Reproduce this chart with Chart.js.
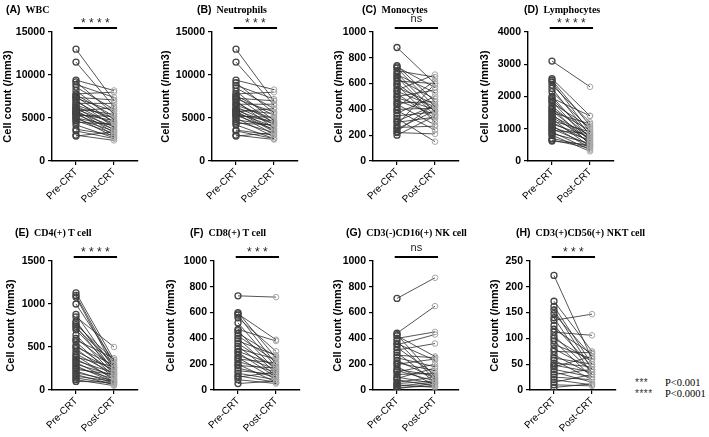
<!DOCTYPE html>
<html>
<head>
<meta charset="utf-8">
<script src="https://cdn.jsdelivr.net/npm/chart.js@4.4.1/dist/chart.umd.min.js"></script>
<style>
  body { margin: 0; background: #fff; }
  #fig { position: relative; width: 709px; height: 437px; overflow: hidden; }
  .panel { position: absolute; }
  .title { position: absolute; white-space: nowrap; line-height: 13px; }
  .title .tag { font: bold 10.5px "Liberation Sans", Arial, sans-serif; }
  .title .name { font: bold 10px "Liberation Serif", "Times New Roman", serif; margin-left: 5px; }
  .key { position: absolute; font: 10.5px "Liberation Serif", "Times New Roman", serif; line-height: 11px; white-space: nowrap; }
  .key .stars { font: 10px "Liberation Sans", Arial, sans-serif; letter-spacing: 0.5px; display: inline-block; width: 30px; color: #333; }
</style>
</head>
<body>
<div id="fig"></div>
<script>
const categories = ["Pre-CRT", "Post-CRT"];

// paired values per patient, pre[i] -> post[i]
const wbcPre = [13000, 11500, 9400, 9200, 8900, 8600, 8200, 7800, 7700, 7500, 7400, 7300, 7100, 6900, 6700, 6500, 6400, 6200, 6100, 6000, 5900, 5800, 5700, 5600, 5500, 5400, 5300, 5100, 5000, 4900, 4700, 4500, 4200, 3700, 3500, 3000, 2900];
const wbcPost = [7000, 6300, 8200, 5500, 7400, 6000, 4800, 8000, 5200, 4500, 7100, 5800, 3900, 4600, 6700, 5000, 4200, 3600, 5400, 4400, 3300, 6200, 4000, 3000, 4700, 3700, 5200, 2800, 4100, 3500, 3200, 4300, 2700, 3000, 2600, 2400, 3400];

const neuPre = [13000, 11500, 9400, 9100, 8800, 8500, 8100, 7800, 7600, 7500, 7300, 7200, 7000, 6800, 6600, 6500, 6300, 6100, 6000, 5900, 5800, 5700, 5600, 5500, 5400, 5300, 5200, 5000, 4800, 4600, 4400, 4200, 3600, 3500, 3000, 2900];
const neuPost = [7000, 6500, 8300, 5600, 7200, 6100, 4700, 8000, 5300, 4400, 7000, 5700, 3800, 4500, 6600, 4900, 4300, 3500, 5500, 4300, 3400, 6100, 4000, 3100, 4600, 3700, 5100, 2800, 4100, 3300, 4200, 2600, 3000, 2600, 2500, 3300];

const monoPre = [880, 740, 730, 720, 700, 680, 670, 650, 640, 620, 600, 590, 570, 550, 540, 520, 500, 490, 470, 450, 440, 420, 400, 390, 370, 350, 330, 310, 300, 280, 260, 250, 230, 220, 200];
const monoPost = [600, 460, 570, 420, 650, 380, 530, 350, 480, 600, 390, 300, 440, 670, 420, 330, 550, 400, 360, 460, 280, 620, 410, 240, 500, 380, 150, 430, 340, 600, 270, 390, 440, 210, 350];

const lymPre = [3100, 2550, 2500, 2450, 2350, 2250, 2150, 2000, 1950, 1900, 1850, 1800, 1700, 1650, 1600, 1550, 1500, 1450, 1400, 1350, 1300, 1250, 1200, 1150, 1100, 1050, 1000, 950, 900, 850, 800, 700, 650, 620];
const lymPost = [2300, 1400, 1100, 900, 1200, 800, 1000, 700, 1400, 850, 600, 1050, 750, 500, 950, 650, 1150, 550, 800, 700, 450, 900, 600, 750, 400, 650, 500, 850, 350, 550, 300, 450, 400, 500];

const cd4Pre = [1130, 1100, 1080, 1000, 880, 850, 800, 780, 760, 740, 720, 700, 640, 600, 580, 560, 520, 500, 480, 450, 420, 400, 380, 360, 340, 320, 300, 280, 260, 240, 220, 200, 180, 160, 140, 120, 100];
const cd4Post = [350, 300, 260, 330, 250, 500, 220, 280, 350, 200, 310, 240, 180, 260, 370, 160, 210, 290, 150, 230, 190, 120, 270, 140, 200, 100, 170, 90, 130, 180, 80, 110, 60, 100, 70, 50, 90];

const cd8Pre = [730, 600, 590, 580, 560, 520, 470, 460, 440, 420, 400, 380, 360, 340, 320, 300, 290, 270, 250, 240, 220, 200, 190, 170, 150, 130, 110, 100, 80, 50];
const cd8Post = [720, 250, 390, 200, 300, 180, 380, 150, 260, 220, 130, 270, 170, 110, 240, 190, 100, 160, 80, 210, 140, 60, 170, 100, 120, 80, 60, 140, 50, 70];

const nkPre = [710, 440, 430, 420, 400, 380, 360, 350, 330, 310, 290, 270, 250, 230, 210, 200, 180, 160, 150, 140, 120, 100, 90, 80, 60, 50, 40, 30, 20, 10];
const nkPost = [870, 650, 100, 260, 450, 80, 230, 430, 120, 360, 60, 250, 180, 90, 150, 240, 40, 110, 70, 200, 130, 50, 170, 30, 100, 70, 20, 60, 30, 50];

const nktPre = [222, 172, 162, 155, 148, 140, 135, 125, 118, 112, 105, 100, 95, 88, 80, 75, 68, 62, 58, 52, 48, 45, 40, 35, 30, 25, 20, 15, 10, 5];
const nktPost = [60, 75, 50, 40, 65, 30, 147, 45, 70, 106, 35, 55, 25, 60, 40, 72, 30, 50, 20, 45, 35, 65, 25, 15, 40, 20, 10, 30, 8, 12];

const panels = [
  { tag: "(A)", name: "WBC", pre: wbcPre, post: wbcPost, max: 15000, step: 5000, sig: "* * * *", row: 0, left: 0, axisX: 52, titleX: 6 },
  { tag: "(B)", name: "Neutrophils", pre: neuPre, post: neuPost, max: 15000, step: 5000, sig: "* * *", row: 0, left: 158, axisX: 212, titleX: 197 },
  { tag: "(C)", name: "Monocytes", pre: monoPre, post: monoPost, max: 1000, step: 200, sig: "ns", row: 0, left: 331, axisX: 373, titleX: 362 },
  { tag: "(D)", name: "Lymphocytes", pre: lymPre, post: lymPost, max: 4000, step: 1000, sig: "* * * *", row: 0, left: 477, axisX: 528, titleX: 524 },
  { tag: "(E)", name: "CD4(+) T cell", pre: cd4Pre, post: cd4Post, max: 1500, step: 500, sig: "* * * *", row: 1, left: 3, axisX: 52, titleX: 15 },
  { tag: "(F)", name: "CD8(+) T cell", pre: cd8Pre, post: cd8Post, max: 1000, step: 200, sig: "* * *", row: 1, left: 163, axisX: 214, titleX: 190 },
  { tag: "(G)", name: "CD3(-)CD16(+) NK cell", pre: nkPre, post: nkPost, max: 1000, step: 200, sig: "ns", row: 1, left: 330, axisX: 373, titleX: 346 },
  { tag: "(H)", name: "CD3(+)CD56(+) NKT cell", pre: nktPre, post: nktPost, max: 250, step: 50, sig: "* * *", row: 1, left: 487, axisX: 530, titleX: 516 },
];

// vertical frame of each row: canvas top/bottom and plot top/bottom
const rows = [
  { top: 0, bottom: 215, plotTop: 32, plotBottom: 161, titleY: 1 },
  { top: 215, bottom: 437, plotTop: 261, plotBottom: 390, titleY: 224 },
];

const AXIS_LEN = 86;
const PRE_OFFSET = 24;
const PAIR_GAP = 38;

const sigBar = {
  id: "sigBar",
  afterDraw(chart, args, opts) {
    const { ctx, chartArea, scales } = chart;
    const x1 = scales.x.getPixelForValue(-0.06);
    const x2 = scales.x.getPixelForValue(1.08);
    const y = chartArea.top - 4;
    ctx.save();
    ctx.strokeStyle = "#000";
    ctx.lineWidth = 2.2;
    ctx.beginPath();
    ctx.moveTo(x1, y);
    ctx.lineTo(x2, y);
    ctx.stroke();
    ctx.fillStyle = "#222";
    ctx.textAlign = "center";
    ctx.textBaseline = "alphabetic";
    if (opts.text === "ns") {
      ctx.font = '11px "Liberation Sans", Arial, sans-serif';
      ctx.fillText(opts.text, (x1 + x2) / 2, y - 6);
    } else {
      ctx.font = '12px "Liberation Sans", Arial, sans-serif';
      ctx.fillText(opts.text, (x1 + x2) / 2, y - 1.5);
    }
    ctx.restore();
  },
};

const fig = document.getElementById("fig");

panels.forEach((p) => {
  const row = rows[p.row];
  const width = p.axisX + AXIS_LEN + 3 - p.left;
  const height = row.bottom - row.top;
  const yWidth = p.axisX - p.left;
  const xHeight = row.bottom - row.plotBottom;

  const wrap = document.createElement("div");
  wrap.className = "panel";
  wrap.style.left = p.left + "px";
  wrap.style.top = row.top + "px";
  const canvas = document.createElement("canvas");
  canvas.width = width;
  canvas.height = height;
  canvas.style.width = width + "px";
  canvas.style.height = height + "px";
  wrap.appendChild(canvas);
  fig.appendChild(wrap);

  const title = document.createElement("div");
  title.className = "title";
  title.style.left = p.titleX + "px";
  title.style.top = row.titleY + "px";
  title.innerHTML = '<span class="tag">' + p.tag + '</span><span class="name">' + p.name + "</span>";
  fig.appendChild(title);

  const datasets = p.pre.map((v, i) => ({
    data: [
      { x: 0, y: v },
      { x: 1, y: p.post[i] },
    ],
    borderColor: "#2a2a2a",
    borderWidth: 0.8,
    pointRadius: [3, 2.8],
    pointBorderWidth: [1.3, 1],
    pointBorderColor: ["#444", "#a8a8a8"],
    pointBackgroundColor: "rgba(255,255,255,0)",
  }));

  new Chart(canvas, {
    type: "line",
    data: { datasets },
    options: {
      responsive: false,
      animation: false,
      events: [],
      layout: {
        autoPadding: false,
        padding: { top: row.plotTop - row.top, right: width - yWidth - AXIS_LEN, left: 0, bottom: 0 },
      },
      plugins: {
        legend: { display: false },
        tooltip: { enabled: false },
        sigBar: { text: p.sig },
      },
      scales: {
        x: {
          type: "linear",
          min: -PRE_OFFSET / PAIR_GAP,
          max: (AXIS_LEN - PRE_OFFSET) / PAIR_GAP,
          afterBuildTicks: (s) => {
            s.ticks = [{ value: 0 }, { value: 1 }];
          },
          afterFit: (s) => {
            s.height = xHeight;
          },
          ticks: {
            callback: (v) => categories[v],
            minRotation: 45,
            maxRotation: 45,
            autoSkip: false,
            padding: 1,
            color: "#000",
            font: { family: '"Liberation Sans", Arial, sans-serif', size: 10 },
          },
          grid: { display: true, drawOnChartArea: false, drawTicks: true, tickLength: 4, color: "#000", lineWidth: 1.2 },
          border: { display: true, color: "#000", width: 1.4 },
        },
        y: {
          min: 0,
          max: p.max,
          afterFit: (s) => {
            s.width = yWidth;
          },
          ticks: {
            stepSize: p.step,
            callback: (v) => String(v),
            padding: 3,
            color: "#000",
            font: { family: '"Liberation Sans", Arial, sans-serif', size: 10.5, weight: "bold" },
          },
          grid: { display: true, drawOnChartArea: false, drawTicks: true, tickLength: 4, color: "#000", lineWidth: 1.2 },
          border: { display: true, color: "#000", width: 1.4 },
          title: {
            display: true,
            text: "Cell count (/mm3)",
            color: "#000",
            padding: { top: 1, bottom: 2 },
            font: { family: '"Liberation Sans", Arial, sans-serif', size: 11, weight: "bold" },
          },
        },
      },
    },
    plugins: [sigBar],
  });
});

// significance key, bottom right
const keys = [
  { stars: "***", text: "P<0.001", top: 377 },
  { stars: "****", text: "P<0.0001", top: 388 },
];
keys.forEach((k) => {
  const d = document.createElement("div");
  d.className = "key";
  d.style.left = "635px";
  d.style.top = k.top + "px";
  d.innerHTML = '<span class="stars">' + k.stars + "</span>" + k.text;
  fig.appendChild(d);
});
</script>
</body>
</html>
